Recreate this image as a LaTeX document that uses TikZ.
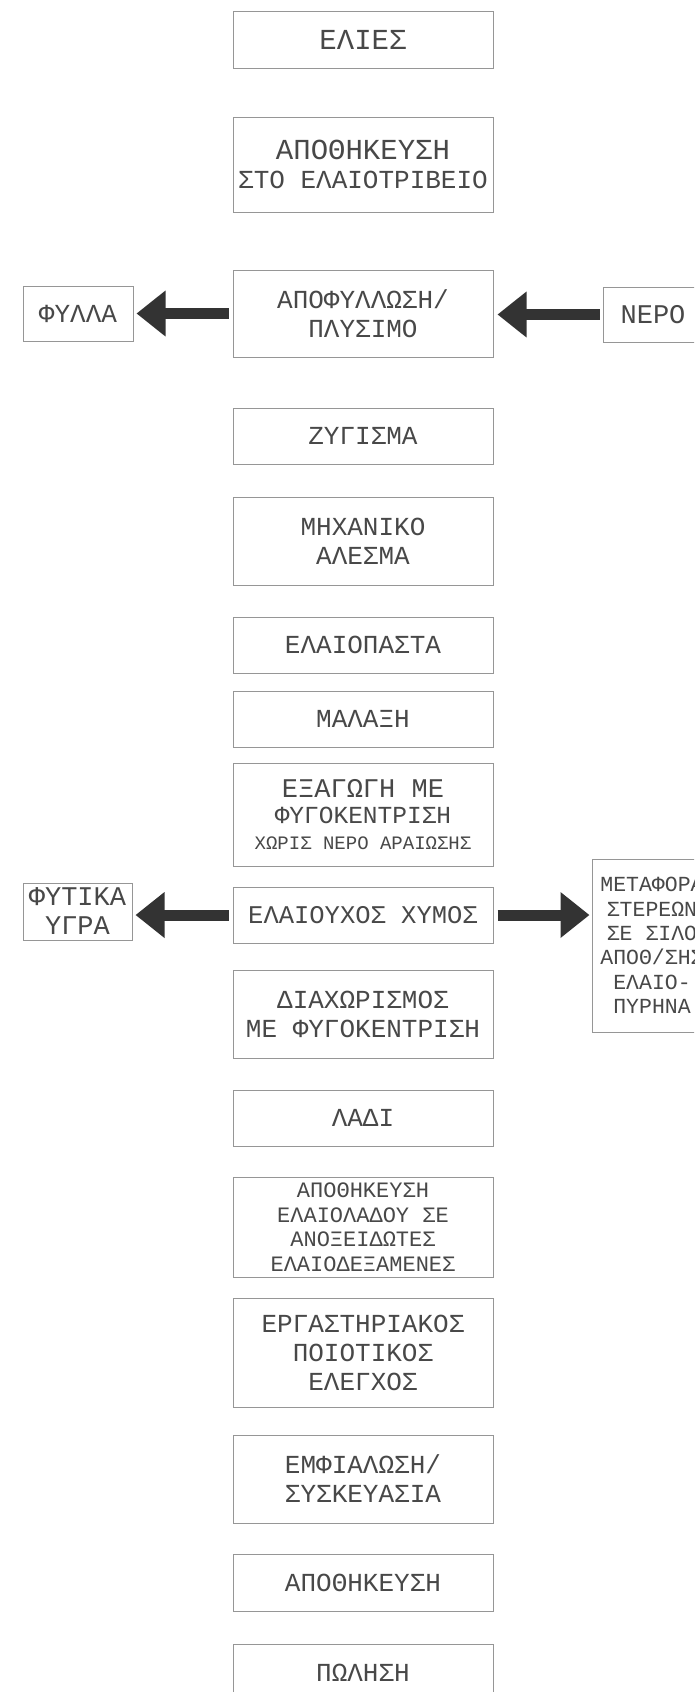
\documentclass[tikz,border=0pt]{standalone}
\usepackage{fontspec}
\setmainfont{Liberation Mono}
\usetikzlibrary{arrows.meta}
\definecolor{boxline}{RGB}{150,150,150}
\definecolor{txt}{RGB}{72,72,72}
\definecolor{arr}{RGB}{51,51,51}
\newcommand{\fsz}[2]{\fontsize{#1}{#2}\selectfont}
\begin{document}
\begin{tikzpicture}[x=1pt,y=-1pt,
  box/.style={draw=boxline, line width=1pt, text=txt, align=center, inner sep=0pt,
    minimum width=260pt, font=\fsz{26}{29}},
  sidebox/.style={draw=boxline, line width=1pt, text=txt, align=center, inner sep=0pt,
    font=\fsz{26}{29}},
  bigarrow/.style={draw=arr, line width=11pt, -{Triangle[length=29pt,width=44pt]}}]
\useasboundingbox (0,0) rectangle (694,1692);
\clip (0,0) rectangle (694,1692);
\fill[white] (0,0) rectangle (694,1692);

\node[box, minimum height=57pt, font=\fsz{29}{29}] (b1) at (363,39.5) {ΕΛΙΕΣ};
\node[box, minimum height=95pt] (b2) at (363,164.5) {{\fsz{29}{29}ΑΠΟΘΗΚΕΥΣΗ}\\ΣΤΟ ΕΛΑΙΟΤΡΙΒΕΙΟ};
\node[box, minimum height=87pt] (b3) at (363,313.5) {ΑΠΟΦΥΛΛΩΣΗ/\\ΠΛΥΣΙΜΟ};
\node[box, minimum height=56pt] (b4) at (363,436) {ΖΥΓΙΣΜΑ};
\node[box, minimum height=88pt] (b5) at (363,541) {ΜΗΧΑΝΙΚΟ\\ΑΛΕΣΜΑ};
\node[box, minimum height=56pt] (b6) at (363,645) {ΕΛΑΙΟΠΑΣΤΑ};
\node[box, minimum height=56pt] (b7) at (363,719) {ΜΑΛΑΞΗ};
\node[box, minimum height=103pt, font=\fsz{24.5}{26}] (b8) at (363,815)
  {{\fsz{27}{26}ΕΞΑΓΩΓΗ ΜΕ}\\ΦΥΓΟΚΕΝΤΡΙΣΗ\\{\fsz{19}{24}ΧΩΡΙΣ ΝΕΡΟ ΑΡΑΙΩΣΗΣ}};
\node[box, minimum height=56pt, font=\fsz{25.5}{29}] (b9) at (363,915) {ΕΛΑΙΟΥΧΟΣ ΧΥΜΟΣ};
\node[box, minimum height=88pt] (b10) at (363,1014) {ΔΙΑΧΩΡΙΣΜΟΣ\\ΜΕ ΦΥΓΟΚΕΝΤΡΙΣΗ};
\node[box, minimum height=56pt] (b11) at (363,1118) {ΛΑΔΙ};
\node[box, minimum height=100pt, font=\fsz{22}{24.5}] (b12) at (363,1227)
  {ΑΠΟΘΗΚΕΥΣΗ\\ΕΛΑΙΟΛΑΔΟΥ ΣΕ\\ΑΝΟΞΕΙΔΩΤΕΣ\\ΕΛΑΙΟΔΕΞΑΜΕΝΕΣ};
\node[box, minimum height=109pt] (b13) at (363,1352.5) {ΕΡΓΑΣΤΗΡΙΑΚΟΣ\\ΠΟΙΟΤΙΚΟΣ\\ΕΛΕΓΧΟΣ};
\node[box, minimum height=88pt] (b14) at (363,1479) {ΕΜΦΙΑΛΩΣΗ/\\ΣΥΣΚΕΥΑΣΙΑ};
\node[box, minimum height=57pt] (b15) at (363,1582.5) {ΑΠΟΘΗΚΕΥΣΗ};
\node[box, minimum height=57pt] (b16) at (363,1672.5) {ΠΩΛΗΣΗ};

\node[sidebox, minimum width=110pt, minimum height=55pt] (fylla) at (78,313.5) {ΦΥΛΛΑ};
\node[sidebox, minimum width=100pt, minimum height=55pt, font=\fsz{27}{29}] (nero) at (653,314.5) {ΝΕΡΟ};
\node[sidebox, minimum width=109pt, minimum height=57pt, font=\fsz{27}{29}] (fytika) at (77.5,911.5) {ΦΥΤΙΚΑ\\ΥΓΡΑ};
\node[sidebox, minimum width=120pt, minimum height=173pt, font=\fsz{21.5}{24.4}] (meta) at (652,945.5)
  {ΜΕΤΑΦΟΡΑ\\ΣΤΕΡΕΩΝ\\ΣΕ ΣΙΛΟ\\ΑΠΟΘ/ΣΗΣ\\ΕΛΑΙΟ-\\ΠΥΡΗΝΑ};

\draw[bigarrow, shorten <=4pt, shorten >=3pt] (b3.west) -- (b3.west -| fylla.east);
\draw[bigarrow, shorten <=3pt, shorten >=4pt] (nero.west) -- (nero.west -| b3.east);
\draw[bigarrow, shorten <=4pt, shorten >=3pt] (b9.west) -- (b9.west -| fytika.east);
\draw[bigarrow, shorten <=4pt, shorten >=2pt] (b9.east) -- (b9.east -| meta.west);
\end{tikzpicture}
\end{document}
